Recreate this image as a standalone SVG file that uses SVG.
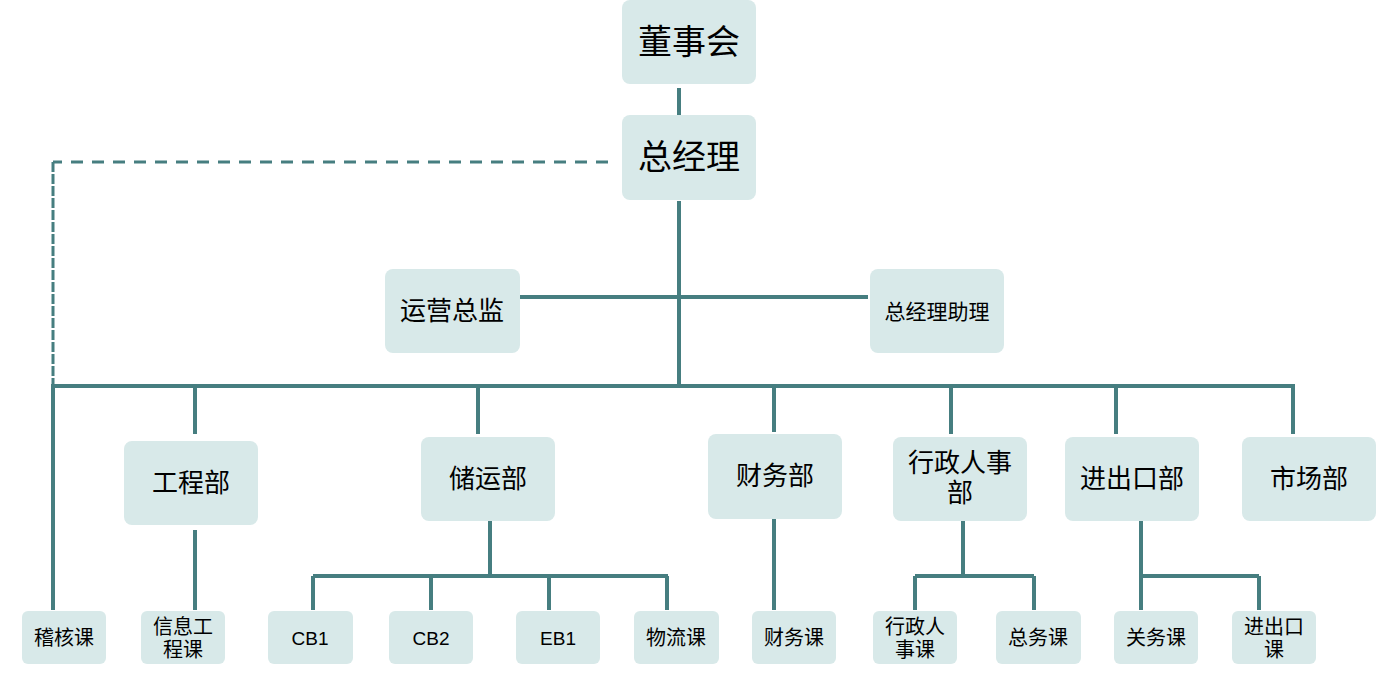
<svg xmlns="http://www.w3.org/2000/svg" width="1377" height="674" viewBox="0 0 1377 674">
<style>
.box{fill:#d8e9e9}
.ln{stroke:#467e80;stroke-width:4;fill:none}
.dash{stroke:#467e80;stroke-width:3;fill:none;stroke-dasharray:12 9}
.dashv{stroke:#467e80;stroke-width:3;fill:none;stroke-dasharray:10 2}
text{font-family:"Liberation Sans","Noto Sans CJK SC",sans-serif;fill:#000;text-anchor:middle;dominant-baseline:central}
.t1{font-size:34px}
.t2{font-size:26px}
.t3{font-size:20px}
</style>
<rect width="1377" height="674" fill="#fff"/>
<g id="connectors">
<line class="ln" x1="679" y1="88" x2="679" y2="115"/>
<line class="ln" x1="679" y1="201" x2="679" y2="386"/>
<line class="ln" x1="520" y1="297" x2="868" y2="297"/>
<line class="dash" x1="608" y1="162" x2="53" y2="162"/>
<line class="dashv" x1="53" y1="162" x2="53" y2="386"/>
<line class="ln" x1="51" y1="386" x2="1295" y2="386"/>
<line class="ln" x1="53" y1="386" x2="53" y2="610"/>
<line class="ln" x1="195" y1="386" x2="195" y2="434"/>
<line class="ln" x1="478" y1="386" x2="478" y2="434"/>
<line class="ln" x1="774" y1="386" x2="774" y2="432"/>
<line class="ln" x1="951" y1="386" x2="951" y2="434"/>
<line class="ln" x1="1116" y1="386" x2="1116" y2="434"/>
<line class="ln" x1="1293" y1="386" x2="1293" y2="434"/>
<line class="ln" x1="195" y1="530" x2="195" y2="610"/>
<line class="ln" x1="490" y1="521" x2="490" y2="576"/>
<line class="ln" x1="313" y1="576" x2="668" y2="576"/>
<line class="ln" x1="313" y1="576" x2="313" y2="610"/>
<line class="ln" x1="431" y1="576" x2="431" y2="610"/>
<line class="ln" x1="549" y1="576" x2="549" y2="610"/>
<line class="ln" x1="667" y1="576" x2="667" y2="610"/>
<line class="ln" x1="774" y1="519" x2="774" y2="610"/>
<line class="ln" x1="963" y1="521" x2="963" y2="576"/>
<line class="ln" x1="915" y1="576" x2="1034" y2="576"/>
<line class="ln" x1="915" y1="576" x2="915" y2="610"/>
<line class="ln" x1="1034" y1="576" x2="1034" y2="610"/>
<line class="ln" x1="1141" y1="521" x2="1141" y2="610"/>
<line class="ln" x1="1141" y1="576" x2="1259" y2="576"/>
<line class="ln" x1="1259" y1="576" x2="1259" y2="610"/>
</g>
<g id="n-board"><rect class="box" x="622" y="0" width="134" height="84" rx="8"/><text class="t1" x="689" y="42">董事会</text></g>
<g id="n-gm"><rect class="box" x="622" y="115" width="134" height="85" rx="8"/><text class="t1" x="689" y="157">总经理</text></g>
<g id="n-coo"><rect class="box" x="385" y="269" width="135" height="84" rx="8"/><text class="t2" x="452" y="311">运营总监</text></g>
<g id="n-asst"><rect class="box" x="870" y="269" width="134" height="84" rx="8"/><text x="937" y="311" style="font-size:21px">总经理助理</text></g>
<g id="n-eng"><rect class="box" x="124" y="441" width="134" height="84" rx="8"/><text class="t2" x="191" y="483">工程部</text></g>
<g id="n-stor"><rect class="box" x="421" y="437" width="134" height="84" rx="8"/><text class="t2" x="488" y="479">储运部</text></g>
<g id="n-fin"><rect class="box" x="708" y="434" width="134" height="85" rx="8"/><text class="t2" x="775" y="476">财务部</text></g>
<g id="n-admin"><rect class="box" x="893" y="437" width="134" height="84" rx="8"/><text class="t2" x="960" y="463">行政人事</text><text class="t2" x="960" y="493">部</text></g>
<g id="n-ie"><rect class="box" x="1065" y="437" width="134" height="84" rx="8"/><text class="t2" x="1132" y="479">进出口部</text></g>
<g id="n-mkt"><rect class="box" x="1242" y="437" width="134" height="84" rx="8"/><text class="t2" x="1309" y="479">市场部</text></g>
<g id="n-audit"><rect class="box" x="22" y="611" width="84" height="53" rx="6"/><text class="t3" x="64" y="638">稽核课</text></g>
<g id="n-it"><rect class="box" x="141" y="611" width="84" height="53" rx="6"/><text class="t3" x="183" y="627">信息工</text><text class="t3" x="183" y="650">程课</text></g>
<g id="n-cb1"><rect class="box" x="268" y="611" width="85" height="53" rx="6"/><text class="t3" x="310" y="638" style="font-size:19px">CB1</text></g>
<g id="n-cb2"><rect class="box" x="389" y="611" width="84" height="53" rx="6"/><text class="t3" x="431" y="638" style="font-size:19px">CB2</text></g>
<g id="n-eb1"><rect class="box" x="516" y="611" width="84" height="53" rx="6"/><text class="t3" x="558" y="638" style="font-size:19px">EB1</text></g>
<g id="n-log"><rect class="box" x="634" y="611" width="85" height="53" rx="6"/><text class="t3" x="676" y="638">物流课</text></g>
<g id="n-acct"><rect class="box" x="752" y="611" width="84" height="53" rx="6"/><text class="t3" x="794" y="638">财务课</text></g>
<g id="n-hr"><rect class="box" x="873" y="611" width="84" height="53" rx="6"/><text class="t3" x="915" y="627">行政人</text><text class="t3" x="915" y="650">事课</text></g>
<g id="n-ga"><rect class="box" x="996" y="611" width="85" height="53" rx="6"/><text class="t3" x="1038" y="638">总务课</text></g>
<g id="n-cust"><rect class="box" x="1114" y="611" width="84" height="53" rx="6"/><text class="t3" x="1156" y="638">关务课</text></g>
<g id="n-iec"><rect class="box" x="1232" y="611" width="84" height="53" rx="6"/><text class="t3" x="1274" y="627">进出口</text><text class="t3" x="1274" y="650">课</text></g>
</svg>
